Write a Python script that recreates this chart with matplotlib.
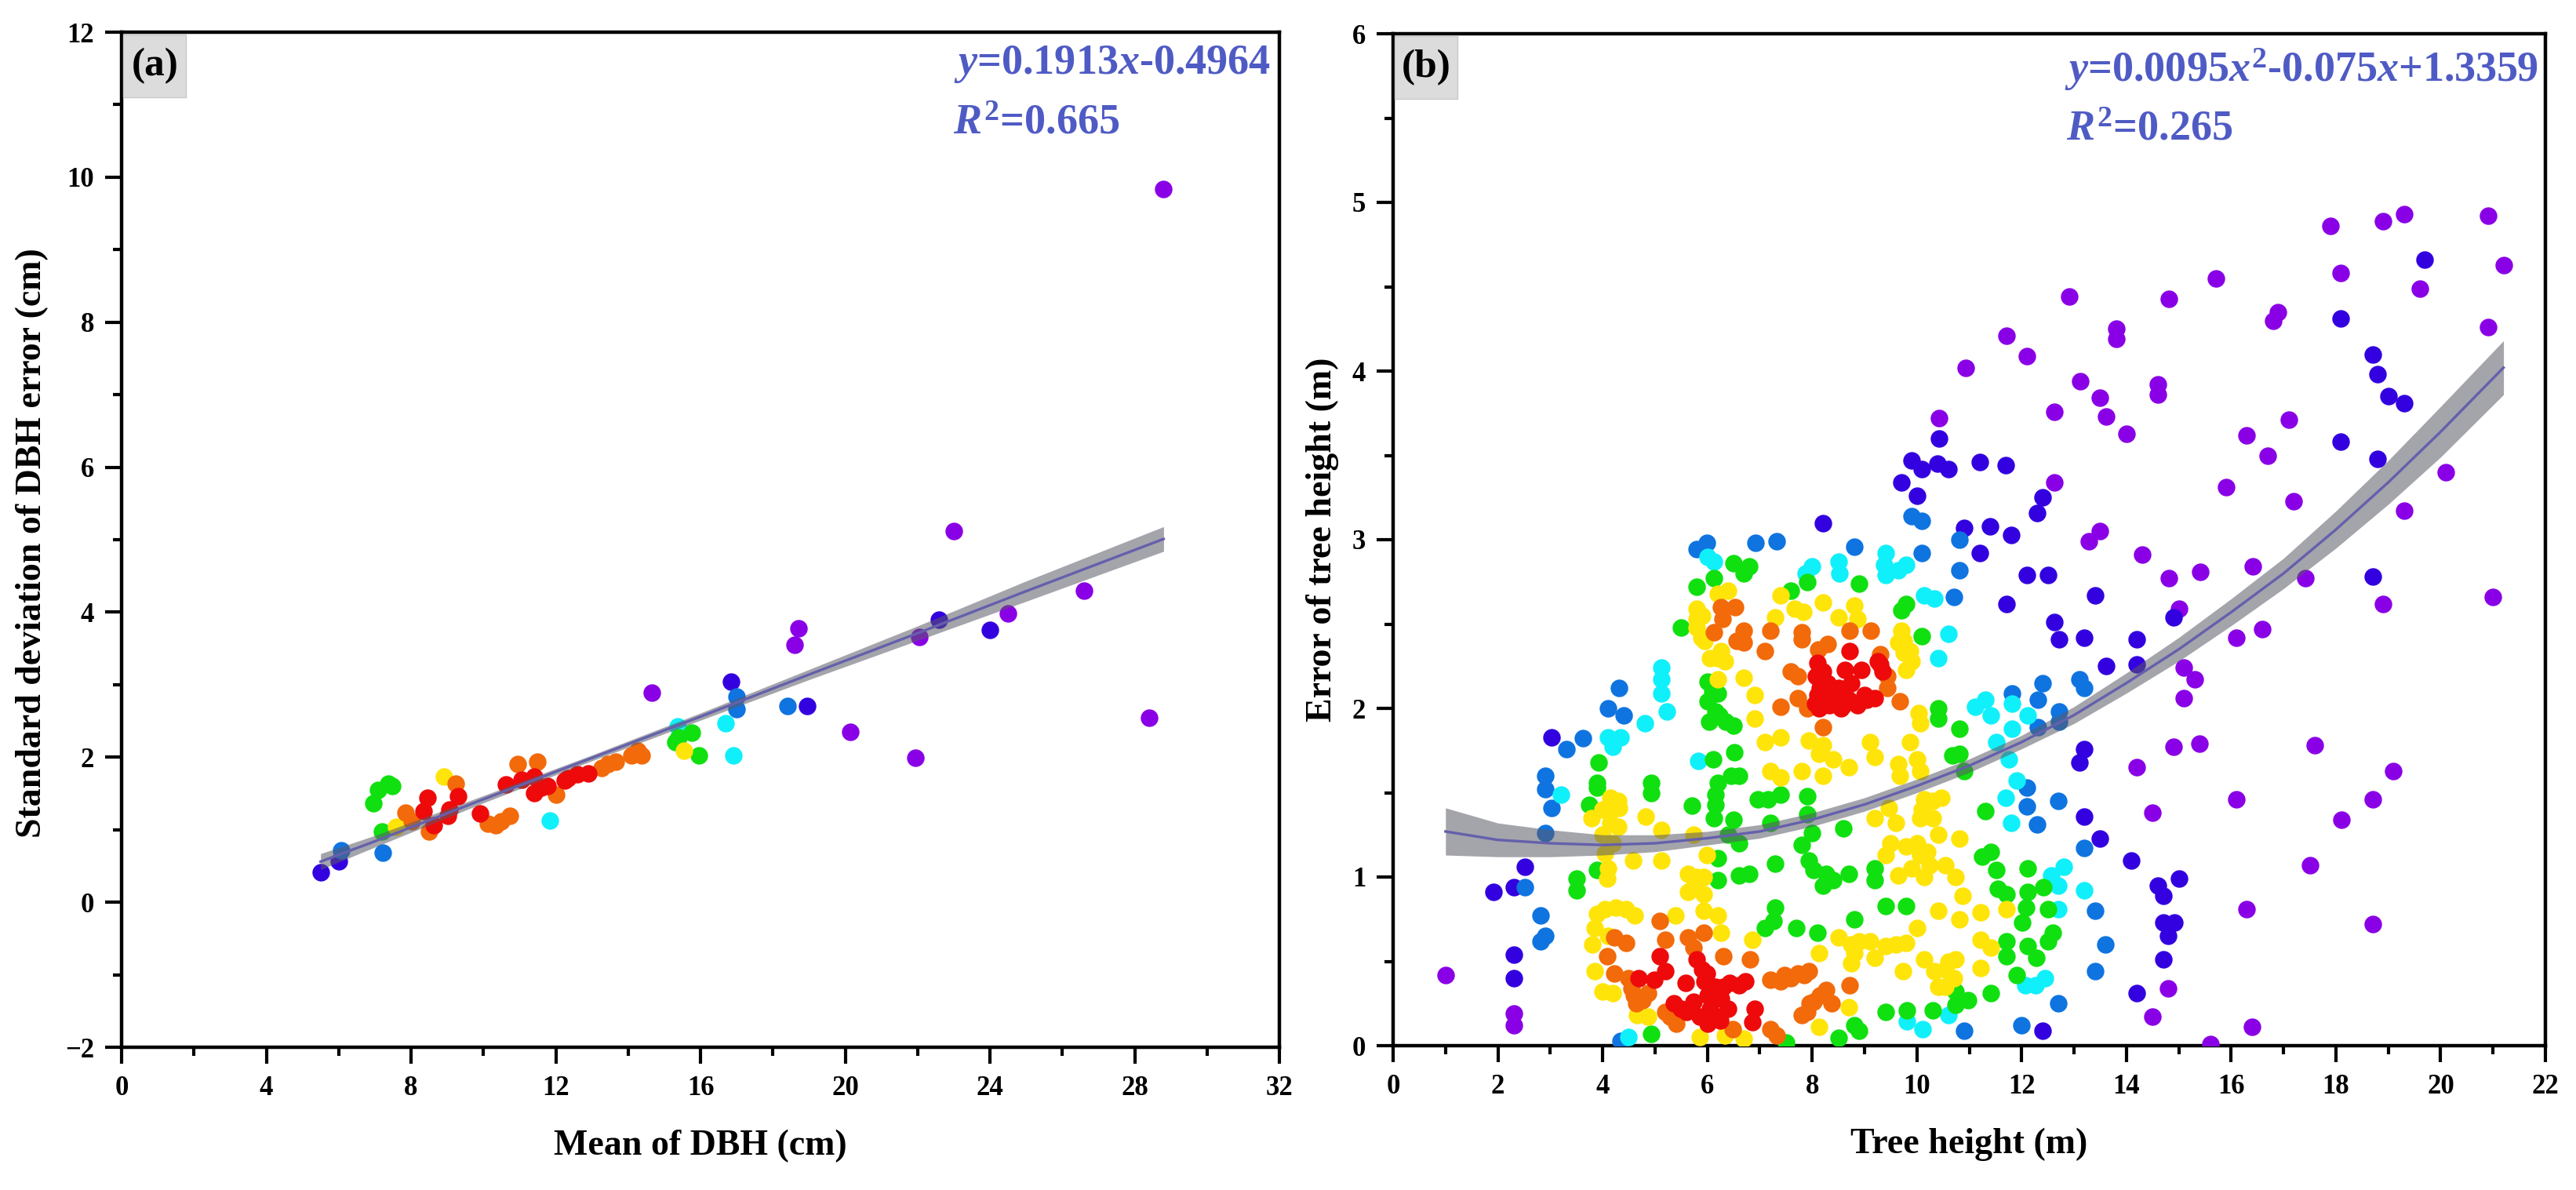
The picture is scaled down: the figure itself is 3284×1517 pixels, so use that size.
from matplotlib import pyplot as plt
from matplotlib.patches import Rectangle
from matplotlib.ticker import MultipleLocator

plt.rcParams['font.family'] = ['Liberation Serif', 'DejaVu Serif']
plt.rcParams['font.weight'] = 'bold'
plt.rcParams['mathtext.fontset'] = 'custom'
plt.rcParams['mathtext.rm'] = 'Liberation Serif:bold'
plt.rcParams['mathtext.bf'] = 'Liberation Serif:bold'
plt.rcParams['mathtext.it'] = 'Liberation Serif:italic:bold'

# density colours, low to high
band_names = ['purple', 'indigo', 'blue', 'cyan', 'green', 'yellow', 'orange', 'red']
band_colors = ['#8a00e6', '#3300e0', '#0f74e0', '#10f0fa', '#10e010', '#ffe40a', '#f26a0a', '#ee0a0a']

# panel (a): (mean DBH, sd of DBH error)
a_purple = [(28.8, 9.84), (23.0, 5.12), (26.6, 4.3), (24.5, 3.98), (22.05, 3.66), (18.7, 3.78), (18.6, 3.55),
            (20.15, 2.35), (21.95, 1.99), (28.4, 2.54), (14.66, 2.89)]
a_indigo = [(5.5, 0.41), (6.0, 0.56), (16.84, 3.04), (24.0, 3.76), (22.6, 3.9), (18.95, 2.71)]
a_blue = [(6.08, 0.72), (7.22, 0.68), (17.0, 2.84), (17.0, 2.66), (18.4, 2.71)]
a_cyan = [(11.84, 1.13), (15.38, 2.43), (16.7, 2.47), (16.9, 2.03)]
a_green = [(6.97, 1.37), (7.08, 1.55), (7.38, 1.64), (7.47, 1.6), (7.19, 0.97), (15.4, 2.27), (15.76, 2.34),
           (15.3, 2.21), (15.95, 2.02)]
a_yellow = [(7.58, 1.04), (8.9, 1.73), (15.54, 2.09)]
a_orange = [(7.85, 1.24), (8.02, 1.12), (8.5, 0.97), (9.24, 1.64), (10.95, 1.91), (11.5, 1.94), (12.0, 1.48),
            (10.12, 1.08), (10.34, 1.06), (10.5, 1.12), (10.73, 1.19), (13.44, 1.91), (13.27, 1.85), (13.66, 1.94),
            (14.1, 2.03), (14.38, 2.02), (14.27, 2.09)]
a_red = [(8.46, 1.44), (8.35, 1.26), (8.63, 1.06), (9.01, 1.19), (9.07, 1.28), (9.29, 1.46), (9.9, 1.22),
         (10.62, 1.62), (11.06, 1.69), (11.4, 1.73), (11.4, 1.51), (11.6, 1.58), (11.78, 1.6), (12.33, 1.71),
         (12.6, 1.76), (12.9, 1.78), (12.25, 1.68)]

# panel (b): (tree height, error of tree height)
b_purple = [(17.9, 4.86), (18.9, 4.89), (19.3, 4.93), (20.9, 4.92), (21.2, 4.63), (18.09, 4.58), (19.6, 4.49),
            (20.9, 4.26), (15.71, 4.55), (14.81, 4.43), (12.91, 4.44), (11.71, 4.21), (12.1, 4.09), (10.93, 4.02),
            (13.81, 4.25), (13.81, 4.19), (16.9, 4.35), (16.81, 4.3), (13.12, 3.94), (13.5, 3.84), (12.62, 3.76),
            (13.61, 3.73), (14.0, 3.63), (14.6, 3.92), (14.6, 3.86), (16.3, 3.62), (16.7, 3.5), (17.1, 3.71),
            (15.91, 3.31), (17.2, 3.23), (20.1, 3.4), (19.3, 3.17), (12.62, 3.34), (13.5, 3.05), (13.29, 2.99),
            (14.3, 2.91), (14.81, 2.77), (15.41, 2.81), (16.41, 2.84), (17.41, 2.77), (18.9, 2.62), (21.0, 2.66),
            (15.0, 2.59), (16.1, 2.42), (16.6, 2.47), (15.1, 2.24), (15.31, 2.17), (15.1, 2.06), (14.9, 1.77),
            (15.4, 1.79), (17.6, 1.78), (14.2, 1.65), (19.1, 1.63), (16.1, 1.46), (18.7, 1.46), (14.5, 1.38),
            (18.1, 1.34), (17.5, 1.07), (16.3, 0.81), (18.7, 0.72), (14.8, 0.34), (14.5, 0.17), (16.4, 0.11),
            (15.6, 0.01), (1.0, 0.42), (2.31, 0.19), (2.31, 0.12), (10.42, 3.72)]
b_indigo = [(19.7, 4.66), (18.09, 4.31), (18.7, 4.1), (18.8, 3.98), (19.0, 3.85), (19.3, 3.81), (18.09, 3.58),
            (18.8, 3.48), (18.7, 2.78), (11.2, 3.46), (11.7, 3.44), (12.4, 3.25), (12.3, 3.16), (10.9, 3.07),
            (11.4, 3.08), (11.8, 3.03), (11.2, 2.92), (12.1, 2.79), (12.5, 2.79), (11.71, 2.62), (13.4, 2.67),
            (12.62, 2.51), (12.71, 2.41), (13.2, 2.42), (14.2, 2.41), (13.61, 2.25), (14.2, 2.26), (14.9, 2.54),
            (13.2, 1.76), (13.1, 1.68), (13.2, 1.36), (13.5, 1.23), (14.1, 1.1), (15.0, 0.99), (14.6, 0.95),
            (14.7, 0.89), (14.7, 0.73), (14.92, 0.73), (14.8, 0.65), (14.7, 0.51), (14.2, 0.31), (12.4, 0.09),
            (8.2, 3.1), (9.7, 3.34), (10.0, 3.26), (9.9, 3.47), (10.1, 3.42), (10.4, 3.45), (10.6, 3.42),
            (10.42, 3.6), (3.02, 1.83), (2.51, 1.06), (2.3, 0.94), (1.92, 0.91), (2.31, 0.54), (2.31, 0.4)]
b_blue = [(5.99, 2.98), (5.79, 2.945), (6.92, 2.98), (7.32, 2.99), (8.8, 2.96), (10.1, 2.92), (9.9, 3.14),
          (10.1, 3.11), (10.81, 3.0), (10.81, 2.82), (10.71, 2.66), (4.31, 2.12), (4.11, 2.0), (4.41, 1.96),
          (3.63, 1.825), (3.31, 1.76), (11.81, 2.09), (12.4, 2.15), (12.31, 2.05), (13.1, 2.17), (13.2, 2.12),
          (12.72, 1.98), (12.72, 1.92), (12.31, 1.89), (12.1, 1.53), (12.1, 1.42), (12.7, 1.45), (12.3, 1.31),
          (13.2, 1.17), (13.4, 0.8), (13.6, 0.6), (13.4, 0.44), (12.7, 0.25), (12.0, 0.12), (10.9, 0.09),
          (4.35, 0.03), (2.91, 1.6), (2.9, 1.52), (3.02, 1.41), (2.91, 1.26), (2.51, 0.94), (2.82, 0.77),
          (2.9, 0.65), (2.81, 0.62)]
b_cyan = [(6.0, 2.9), (6.13, 2.87), (8.0, 2.84), (7.87, 2.8), (8.5, 2.87), (8.52, 2.8), (9.4, 2.92), (9.37, 2.85),
          (9.4, 2.79), (9.8, 2.85), (9.64, 2.82), (10.14, 2.67), (10.34, 2.65), (10.61, 2.44), (10.41, 2.3),
          (5.12, 2.24), (5.12, 2.17), (5.12, 2.09), (5.22, 1.98), (4.8, 1.91), (4.1, 1.83), (4.35, 1.83), (4.2, 1.77),
          (5.83, 1.69), (11.11, 2.01), (11.31, 2.05), (11.41, 1.96), (12.11, 1.96), (11.81, 2.03), (11.81, 1.88),
          (11.51, 1.8), (11.75, 1.7), (11.9, 1.57), (11.7, 1.47), (11.8, 1.32), (12.8, 1.06), (12.56, 1.01),
          (12.7, 0.95), (13.2, 0.92), (12.7, 0.81), (12.07, 0.36), (12.26, 0.36), (12.45, 0.4), (9.81, 0.146),
          (10.11, 0.1), (10.61, 0.18), (4.5, 0.05), (3.2, 1.49)]
b_green = [(6.5, 2.86), (6.8, 2.84), (6.7, 2.8), (6.13, 2.77), (5.79, 2.72), (5.49, 2.48), (7.9, 2.75), (7.6, 2.7),
           (8.9, 2.74), (9.8, 2.62), (9.7, 2.58), (10.1, 2.43), (6.0, 2.16), (6.2, 2.09), (6.0, 2.04), (6.03, 1.92),
           (6.23, 1.96), (6.5, 1.9), (6.35, 1.92), (6.15, 1.98), (6.1, 2.1), (10.41, 2.0), (10.41, 1.94), (10.81, 1.88),
           (10.81, 1.73), (10.68, 1.72), (3.93, 1.68), (6.51, 1.74), (6.11, 1.7), (6.6, 1.6), (6.46, 1.6), (3.89, 1.56),
           (4.92, 1.56), (6.2, 1.56), (3.9, 1.53), (3.75, 1.43), (4.92, 1.5), (6.16, 1.49), (6.16, 1.43), (5.71, 1.425),
           (6.13, 1.35), (6.5, 1.34), (7.2, 1.32), (6.96, 1.46), (7.16, 1.46), (7.4, 1.49), (7.9, 1.48), (7.9, 1.37),
           (8.6, 1.29), (8.0, 1.26), (7.8, 1.19), (6.6, 1.2), (6.4, 1.25), (6.2, 1.11), (7.3, 1.08), (6.2, 0.98),
           (6.6, 1.01), (6.8, 1.02), (7.93, 1.1), (8.03, 1.04), (8.2, 0.95), (8.4, 0.98), (8.7, 1.02), (8.27, 1.02),
           (9.2, 1.05), (9.2, 0.98), (3.51, 0.99), (3.51, 0.92), (3.9, 1.04), (7.3, 0.82), (7.26, 0.74), (7.1, 0.696),
           (7.7, 0.7), (8.1, 0.67), (8.8, 0.75), (9.4, 0.83), (9.8, 0.83), (11.31, 1.39), (11.24, 1.12), (11.41, 1.15),
           (11.51, 1.04), (12.11, 1.05), (11.54, 0.93), (11.71, 0.9), (12.11, 0.91), (12.41, 0.94), (12.08, 0.82),
           (12.01, 0.73), (12.51, 0.81), (12.6, 0.67), (12.51, 0.62), (11.71, 0.62), (11.71, 0.53), (12.11, 0.59),
           (12.28, 0.52), (11.91, 0.42), (11.41, 0.31), (10.98, 0.27), (10.74, 0.32), (10.74, 0.24), (10.31, 0.21),
           (9.81, 0.21), (9.4, 0.2), (8.9, 0.09), (8.8, 0.12), (8.5, 0.045), (7.5, 0.02), (4.92, 0.07), (10.91, 1.63)]
b_yellow = [(6.2, 2.68), (6.4, 2.7), (5.79, 2.59), (5.79, 2.53), (5.89, 2.42), (6.26, 2.34), (6.33, 2.28),
            (7.4, 2.67), (8.2, 2.63), (8.8, 2.61), (7.67, 2.59), (7.83, 2.57), (7.3, 2.54), (8.5, 2.54), (8.87, 2.53),
            (9.7, 2.46), (9.64, 2.39), (9.87, 2.34), (9.8, 2.23), (6.2, 2.17), (6.7, 2.18), (6.9, 2.08), (6.91, 1.94),
            (10.04, 1.97), (10.07, 1.91), (7.1, 1.8), (7.4, 1.83), (7.93, 1.81), (8.2, 1.78), (9.1, 1.8), (9.2, 1.71),
            (9.87, 1.8), (10.0, 1.7), (9.64, 1.67), (8.13, 1.73), (8.4, 1.7), (8.7, 1.65), (7.2, 1.63), (7.8, 1.63),
            (8.2, 1.6), (7.4, 1.59), (9.67, 1.6), (10.07, 1.63), (10.14, 1.46), (10.47, 1.47), (10.07, 1.35),
            (9.47, 1.41), (9.2, 1.35), (9.6, 1.32), (10.41, 1.25), (10.81, 1.23), (4.15, 1.47), (4.15, 1.39),
            (4.15, 1.32), (4.32, 1.41), (3.79, 1.35), (4.82, 1.36), (5.12, 1.28), (5.73, 1.25), (4.05, 1.14),
            (4.09, 0.99), (4.59, 1.1), (5.12, 1.1), (5.99, 1.13), (5.63, 1.02), (5.93, 1.0), (5.63, 0.91), (5.93, 0.9),
            (9.4, 1.13), (9.8, 1.18), (10.07, 1.13), (10.24, 1.07), (10.54, 1.07), (9.64, 1.01), (10.14, 1.0),
            (10.74, 1.0), (10.88, 0.89), (10.41, 0.8), (10.81, 0.75), (11.21, 0.79), (11.71, 0.81), (10.0, 0.7),
            (11.21, 0.63), (11.41, 0.58), (4.05, 0.81), (4.45, 0.81), (3.85, 0.7), (4.62, 0.77), (5.39, 0.77),
            (5.93, 0.8), (6.2, 0.77), (6.26, 0.67), (6.86, 0.63), (8.13, 0.55), (8.5, 0.64), (8.74, 0.6), (8.74, 0.49),
            (9.1, 0.62), (9.2, 0.52), (9.4, 0.59), (9.8, 0.61), (10.14, 0.51), (9.74, 0.44), (10.34, 0.44),
            (10.41, 0.35), (10.74, 0.51), (10.71, 0.4), (11.21, 0.46), (3.85, 0.44), (4.19, 0.31), (4.66, 0.18),
            (4.86, 0.17), (8.7, 0.23), (8.13, 0.11), (5.86, 0.05), (6.33, 0.06), (6.7, 0.04), (4.0, 1.4), (4.3, 1.3),
            (4.0, 1.25), (4.2, 1.2), (4.3, 1.45), (5.8, 1.0), (5.75, 0.95), (4.1, 1.05), (3.9, 0.78), (4.25, 0.82),
            (3.8, 0.6), (4.1, 0.65), (4.0, 0.32), (9.5, 1.2), (9.9, 1.05), (10.2, 1.15), (10.0, 1.2), (10.3, 1.35),
            (10.3, 1.45), (10.1, 1.4), (8.9, 0.62), (8.8, 0.55), (9.6, 0.6), (10.55, 0.45), (10.55, 0.35), (10.6, 0.5),
            (5.8, 2.48), (5.9, 2.55), (5.95, 2.4), (6.05, 2.3), (6.2, 2.3), (9.75, 2.33), (9.9, 2.28), (9.75, 2.4)]
b_orange = [(6.26, 2.6), (6.53, 2.6), (6.29, 2.53), (6.13, 2.45), (6.7, 2.46), (6.56, 2.4), (6.7, 2.39), (7.21, 2.46),
            (7.1, 2.34), (7.81, 2.45), (7.81, 2.41), (8.72, 2.46), (9.12, 2.46), (8.3, 2.38), (8.12, 2.35), (7.6, 2.22),
            (7.73, 2.19), (7.4, 2.01), (7.73, 2.06), (7.9, 2.0), (9.3, 2.32), (9.44, 2.19), (9.44, 2.12), (9.67, 2.04),
            (8.2, 1.89), (5.09, 0.74), (5.19, 0.63), (4.22, 0.64), (4.45, 0.61), (4.09, 0.53), (4.22, 0.43), (5.63, 0.64),
            (5.93, 0.67), (5.73, 0.58), (6.31, 0.53), (6.82, 0.51), (4.55, 0.34), (4.76, 0.27), (4.86, 0.31), (5.29, 0.17),
            (6.49, 0.1), (7.2, 0.39), (7.47, 0.42), (7.73, 0.43), (7.93, 0.44), (8.72, 0.36), (8.27, 0.33), (8.03, 0.26),
            (7.8, 0.18), (8.37, 0.25), (7.2, 0.1), (7.33, 0.06), (4.5, 0.4), (4.6, 0.3), (4.65, 0.25), (5.4, 0.13),
            (5.2, 0.2), (8.15, 0.3), (7.4, 0.38), (7.6, 0.4), (7.85, 0.42), (7.95, 0.25), (7.9, 0.2)]
b_red = [(8.72, 2.34), (8.1, 2.27), (8.07, 2.19), (8.3, 2.15), (8.1, 2.08), (8.33, 2.02), (8.63, 2.23), (8.94, 2.23),
         (8.74, 2.15), (8.63, 2.08), (8.87, 2.02), (9.2, 2.06), (9.3, 2.26), (8.6, 2.02), (8.13, 2.0), (5.09, 0.53),
         (5.19, 0.44), (4.99, 0.39), (4.69, 0.4), (5.59, 0.37), (5.79, 0.51), (5.99, 0.43), (6.03, 0.36), (6.43, 0.37),
         (6.73, 0.38), (5.36, 0.25), (5.73, 0.26), (6.26, 0.28), (6.4, 0.22), (5.86, 0.17), (6.2, 0.17), (6.9, 0.22),
         (6.86, 0.14), (6.6, 0.36), (6.1, 0.29), (5.9, 0.45), (6.0, 0.3), (6.05, 0.22), (6.15, 0.35), (6.3, 0.35),
         (5.6, 0.2), (5.5, 0.22), (6.0, 0.13), (6.25, 0.15), (5.95, 0.38), (8.2, 2.22), (8.15, 2.12), (8.45, 2.05),
         (8.5, 2.12), (8.7, 2.05), (9.0, 2.08), (8.25, 2.05), (8.05, 2.03), (8.35, 2.08), (8.55, 2.0), (9.05, 2.05),
         (9.25, 2.28), (9.35, 2.22)]

# fit lines and confidence bands
a_fit_x = [5.5, 7, 10, 13, 16, 19, 22, 25, 28.8]
a_fit_y = [0.56, 0.84, 1.42, 1.99, 2.56, 3.14, 3.71, 4.29, 5.01]
a_fit_lo = [0.45, 0.76, 1.37, 1.95, 2.51, 3.07, 3.61, 4.15, 4.84]
a_fit_hi = [0.67, 0.92, 1.47, 2.03, 2.61, 3.21, 3.81, 4.43, 5.18]
b_fit_x = [1, 2, 3, 4, 5, 6, 7, 8, 9, 10, 11, 12, 13, 14, 15, 16, 17, 18, 19, 20, 21.2]
b_fit_y = [1.27, 1.22, 1.2, 1.19, 1.2, 1.23, 1.27, 1.34, 1.43, 1.54, 1.66, 1.8, 1.96, 2.15, 2.35, 2.57, 2.8, 3.06,
           3.34, 3.64, 4.02]
b_fit_lo = [1.13, 1.12, 1.12, 1.13, 1.15, 1.19, 1.23, 1.3, 1.39, 1.5, 1.62, 1.76, 1.91, 2.09, 2.28, 2.49, 2.71, 2.95,
            3.21, 3.49, 3.86]
b_fit_hi = [1.41, 1.32, 1.28, 1.25, 1.25, 1.27, 1.31, 1.38, 1.47, 1.58, 1.7, 1.84, 2.01, 2.21, 2.42, 2.65, 2.89, 3.17,
            3.47, 3.79, 4.18]

W, H = 3284, 1517
TEXT_BLUE = '#4f5bc4'


def scatter_bands(ax, bands):
    for pts, color in zip(bands, band_colors):
        xs, ys = zip(*pts)
        ax.scatter(xs, ys, s=260, color=color, linewidths=0, zorder=3, clip_on=True)


def fit(ax, x, y, lo, hi):
    ax.fill_between(x, lo, hi, color='#5a5a66', alpha=0.55, linewidth=0, zorder=4)
    ax.plot(x, y, color='#6460ac', lw=2.4, zorder=5)


def style(ax, xlim, ylim, xmaj, xmin, ymaj, ymin, xlabel, ylabel):
    ax.set_xlim(*xlim)
    ax.set_ylim(*ylim)
    ax.xaxis.set_major_locator(MultipleLocator(xmaj))
    ax.xaxis.set_minor_locator(MultipleLocator(xmin))
    ax.yaxis.set_major_locator(MultipleLocator(ymaj))
    ax.yaxis.set_minor_locator(MultipleLocator(ymin))
    ax.tick_params(which='major', length=15, width=3, labelsize=25)
    ax.tick_params(which='minor', length=8, width=3)
    ax.tick_params(axis='x', which='major', pad=11)
    ax.tick_params(axis='y', which='major', pad=10)
    for s in ax.spines.values():
        s.set_linewidth(3.2)
    ax.set_xlabel(xlabel, fontsize=33, fontweight='bold')
    ax.set_ylabel(ylabel, fontsize=33, fontweight='bold')
    ax.xaxis.set_label_coords(0.5, -0.081)


def tag(ax, label, x0, x1):
    # grey box behind the panel letter, sized in pixels of the figure
    box = ax.get_position()
    bw = (x1 - x0) / W / box.width
    bh = 80 / H / box.height
    ax.add_patch(Rectangle((0.0015, 1 - bh - 0.002), bw, bh, transform=ax.transAxes,
                           facecolor='#dcdcdc', edgecolor='#c8c8c8', lw=1, zorder=6))
    ax.text(0.0015 + bw / 2, 1 - bh / 2 - 0.002, label, transform=ax.transAxes, ha='center', va='center',
            fontsize=37, fontweight='bold', zorder=7)


fig = plt.figure(figsize=(W / 100, H / 100), dpi=100)
ax1 = fig.add_axes([155 / W, 1 - 1335 / H, (1631 - 155) / W, (1335 - 41) / H])
ax2 = fig.add_axes([1776 / W, 1 - 1333 / H, (3245 - 1776) / W, (1333 - 43) / H])

scatter_bands(ax1, [a_purple, a_indigo, a_blue, a_cyan, a_green, a_yellow, a_orange, a_red])
fit(ax1, a_fit_x, a_fit_y, a_fit_lo, a_fit_hi)
style(ax1, (0, 32), (-2, 12), 4, 2, 2, 1, 'Mean of DBH (cm)', 'Standard deviation of DBH error (cm)')
ax1.yaxis.set_label_coords(-0.063, 0.497)
tag(ax1, '(a)', 157, 237)
ax1.text(0.9925, 0.968, r'$\mathit{y}$=0.1913$\mathit{x}$-0.4964', transform=ax1.transAxes, ha='right', va='center',
         fontsize=39, color=TEXT_BLUE, zorder=7)
ax1.text(0.718, 0.91, r'$\mathit{R}^{\mathbf{2}}$=0.665', transform=ax1.transAxes, ha='left', va='center',
         fontsize=39, color=TEXT_BLUE, zorder=7)

scatter_bands(ax2, [b_purple, b_indigo, b_blue, b_cyan, b_green, b_yellow, b_orange, b_red])
fit(ax2, b_fit_x, b_fit_y, b_fit_lo, b_fit_hi)
style(ax2, (0, 22), (0, 6), 2, 1, 1, 0.5, 'Tree height (m)', 'Error of tree height (m)')
ax2.yaxis.set_label_coords(-0.047, 0.5)
tag(ax2, '(b)', 1779, 1859)
ax2.text(0.993, 0.965, r'$\mathit{y}$=0.0095$\mathit{x}^{\mathbf{2}}$-0.075$\mathit{x}$+1.3359', transform=ax2.transAxes,
         ha='right', va='center', fontsize=39, color=TEXT_BLUE, zorder=7)
ax2.text(0.584, 0.905, r'$\mathit{R}^{\mathbf{2}}$=0.265', transform=ax2.transAxes, ha='left', va='center',
         fontsize=39, color=TEXT_BLUE, zorder=7)

plt.savefig('out.png', dpi=100)
